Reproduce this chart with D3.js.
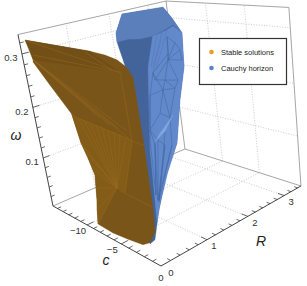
<!DOCTYPE html>
<html><head><meta charset="utf-8"><script src="https://cdn.jsdelivr.net/npm/d3@7"></script>
<style>html,body{margin:0;background:#fff}svg{display:block}text{font-family:"Liberation Sans",sans-serif}</style></head>
<body><svg id="c" width="307" height="286"></svg>
<script>
const cRange=[0,-15.8], rRange=[0,3.5], wRange=[0,0.335];
const cMajor=[-5,-10], rMajor=[1,2,3], wMajor=[0.1,0.2,0.3];
const cMinor=[-1,-2,-3,-4,-6,-7,-8,-9,-11,-12,-13,-14,-15];
const rMinor=[.2,.4,.6,.8,1.2,1.4,1.6,1.8,2.2,2.4,2.6,2.8,3.2,3.4];
const wMinor=[.02,.04,.06,.08,.12,.14,.16,.18,.22,.24,.26,.28,.32];
const legendLabels=['Stable solutions','Cauchy horizon'];
// stable solutions: vertices [c, omega], on the sheet R = stableR
const stableR=0.05;
const stableNodes=[[-15.18,.325],[-9.41,.325],[-5.17,.325],[-3.28,.323],[-1.88,.319],[-.94,.311],[-.30,.298],[-.26,.272],[-.23,.235],[-.20,.196],[-.23,.141],[-.25,.095],[-.45,.053],[-1.31,.028],[-2.29,.017],[-4.26,.012],[-6.37,.008],[-8.53,.010],[-7.99,.060],[-7.59,.108],[-8.22,.136],[-8.90,.160],[-9.53,.207],[-9.63,.210],[-12.28,.251],[-14.52,.287],[-14.26,.300],[-1.75,.301],[-5.88,.322],[-2.70,.302],[-1.59,.196],[-14.44,.291],[-2.13,.211],[-3.13,.210],[-4.13,.211],[-5.36,.218],[-8.65,.205],[-7.77,.205],[-6.94,.203],[-6.11,.203],[-5.29,.203],[-4.52,.201],[-3.75,.201],[-3.01,.200],[-2.29,.198],[-4.62,.102],[-3.61,.099],[-.36,.096],[-8.39,.144],[-7.94,.125],[-7.66,.114],[-7.80,.083],[-8.57,.152],[-8.28,.039]];
const stableOutline=d3.range(27);
const stableWedge=[0,2,27,31];
const stableFan=[22,36,37,38,39,40,41,42,43,44,30,46,45,17,53,18,51,19,20,21];
const stableMesh=[[0,27],[26,27],[28,29],[27,30],[31,30],[31,32],[31,33],[31,34],[31,35],[22,36],[36,44],[44,30],[30,9],[30,46],[46,45],[46,47],[45,17],[36,45],[37,45],[38,45],[39,45],[40,45],[41,45],[42,45],[43,45],[44,45],[21,45],[52,45],[48,45],[49,45],[50,45],[51,45],[53,45]];
// Cauchy horizon: vertices [c, R, omega]
const cauchyNodes=[[-8.26,1.2,.357],[-3.48,1.3,.371],[-2.01,1.2,.357],[-1.09,1.2,.336],[-.21,1,.290],[-.56,.9,.240],[-.38,.7,.177],[-.83,.5,.132],[-1.86,.4,.067],[-1.62,.2,.024],[-2.37,.2,.011],[-5.28,.7,.195],[-7.58,1,.274],[-8.89,1.1,.310],[-8.83,1.1,.326],[-7.27,1.1,.318],[-5.66,1.1,.321],[-4.08,1.1,.328],[-3.26,1.2,.336],[-2,1.2,.347],[-4.01,1.1,.328],[-3.02,1.2,.336],[-2.01,1.2,.345],[-1.09,1.2,.336],[-.21,1,.290],[-.56,.9,.240],[-.38,.7,.177],[-.70,.5,.135],[-1.42,.4,.087],[-1.68,.3,.051],[-2.12,.4,.100],[-3.20,.6,.156],[-3.88,.8,.215],[-4.50,1,.279],[-2.29,1.1,.330],[-1.93,1,.297],[-1.46,1.1,.322],[-.99,1.1,.312],[-2.36,1.1,.304],[-.34,1,.300],[-3.22,.9,.264],[-2,.9,.267],[-1.07,1,.267],[-3.98,1,.271],[-2.41,.9,.250],[-4.12,.9,.236],[-.96,.9,.257],[-2.54,.8,.214],[-3.48,.7,.185],[-1.41,.8,.211],[-2.64,.7,.172],[-2.26,.7,.185],[-1.01,.8,.217],[-1.61,.7,.191],[-3.06,.7,.167],[-2.47,.6,.168],[-1.80,.4,.084],[-1.85,.7,.167],[-1,.7,.171],[-1.71,.4,.082],[-3.67,.7,.167],[-1.96,.4,.092],[-3.45,1.1,.331],[-4.12,1,.280],[-3.40,1.2,.334],[-3.89,1,.279],[-2.77,1.2,.338],[-3.55,1,.277]];
const cauchyOutline=d3.range(15);
const cauchyCap=[0,1,2,3,19,18,17,16,15,13,14];
const cauchyLit=d3.range(20,34);
const cauchyCrescent=[54,51,52,53];
const cauchyFan=[[62,63],[64,65],[66,67],[18,43]];
const cauchyMesh=[[34,35],[35,36],[35,37],[35,38],[35,39],[35,40],[35,41],[35,42],[43,44],[44,45],[44,46],[44,47],[47,48],[47,49],[48,50],[38,43],[41,44],[42,46],[36,34],[38,34],[55,56],[57,59],[58,59],[60,61],[50,56],[48,55],[50,57],[49,58],[55,61],[57,56],[58,56],[43,45],[45,48],[46,49],[40,43],[41,46],[37,39],[36,37],[40,41],[41,42],[44,49],[45,60],[54,61],[53,59]];

const sc=d3.scaleLinear().domain(cRange).range([0,1]),
 sr=d3.scaleLinear().domain(rRange).range([0,1]),
 sw=d3.scaleLinear().domain(wRange).range([0,1]);
const P=(c,R,w)=>{const a=sc(c),b=sr(R),h=sw(w);
 const d=1+.2578*a+.2244*b-.108*h;
 return [(161-94.34*a+207.5*b-46*h)/d,(266-6.9*a-38.3*b-219.4*h)/d];};
const svg=d3.select('#c');
const line=(pts,st)=>svg.append('path').attr('d',d3.line()(pts)).attr('fill','none').attr('stroke',st.c).attr('stroke-width',st.w).attr('stroke-dasharray',st.d||null);
const poly=(pts,f)=>svg.append('path').attr('d',d3.line()(pts)+'Z').attr('fill',f).attr('stroke',f).attr('stroke-width',.3);
const C=cRange[1],Rm=rRange[1],W=wRange[1];
const grid={c:'#bdbdbd',w:.8,d:'1 1.6'}, edge={c:'#a6a6a6',w:1}, ax={c:'#444',w:1};
rMajor.forEach(r=>{line([P(0,r,0),P(C,r,0)],grid);line([P(C,r,0),P(C,r,W)],grid);});
cMajor.forEach(c=>{line([P(c,0,0),P(c,Rm,0)],grid);line([P(c,Rm,0),P(c,Rm,W)],grid);});
wMajor.forEach(w=>{line([P(C,0,w),P(C,Rm,w)],grid);line([P(C,Rm,w),P(0,Rm,w)],grid);});
line([P(C,0,0),P(C,Rm,0),P(0,Rm,0),P(0,Rm,W),P(C,Rm,W),P(C,0,W)],edge);
line([P(C,Rm,0),P(C,Rm,W)],edge);

const bp=i=>P(...cauchyNodes[i]);
poly(cauchyOutline.map(bp),'#43649b');
poly(cauchyCap.map(bp),'#5a7fbb');
poly(cauchyLit.map(bp),'#6289cb');
cauchyFan.forEach(([a,b])=>line([bp(a),bp(b)],{c:'#5a80c0',w:1}));
cauchyMesh.forEach(([a,b])=>line([bp(a),bp(b)],{c:'#3f659f',w:.5}));
poly(cauchyCrescent.map(bp),'#80a6e2');

const op=i=>{const n=stableNodes[i];return P(n[0],stableR,n[1]);};
poly(stableOutline.map(op),'#7a5519');
poly(stableWedge.map(op),'#724f17');
poly(stableFan.map(op),'#835c18');
stableMesh.forEach(([a,b])=>line([op(a),op(b)],{c:'#96691f',w:.5}));

line([P(C,0,W),P(C,0,0),P(0,0,0),P(0,Rm,0)],ax);
const tk=(a,b)=>line([a,b],{c:'#444',w:.8});
wMajor.forEach(w=>tk(P(C,0,w),P(C,.14,w)));wMinor.forEach(w=>tk(P(C,0,w),P(C,.08,w)));
cMajor.forEach(c=>tk(P(c,0,0),P(c,.14,0)));cMinor.forEach(c=>tk(P(c,0,0),P(c,.08,0)));
rMajor.forEach(r=>tk(P(0,r,0),P(-.7,r,0)));rMinor.forEach(r=>tk(P(0,r,0),P(-.4,r,0)));
const T=(s,x,y,o={})=>svg.append('text').text(s).attr('x',x).attr('y',y).attr('text-anchor',o.a||'middle').attr('dominant-baseline','central').attr('font-size',o.s||9.5).attr('fill',o.f||'#333').attr('font-style',o.i?'italic':null).attr('font-family',o.ff||null);
const off=(p,dx,dy)=>[p[0]+dx,p[1]+dy];
wMajor.forEach(w=>{const p=off(P(C,0,w),-11,4);T(w,p[0],p[1]);});
cMajor.forEach(c=>{const p=off(P(c,0,0),-9,6);T('\u2212'+(-c),p[0],p[1]);});
T('0',...off(P(0,0,0),0,11));
T('0',...off(P(0,0,0),10,6));
rMajor.forEach(r=>{const p=off(P(0,r,0),7,6);T(r,p[0],p[1]);});
const sf={i:1,s:14,f:'#222',ff:'"Liberation Serif",serif'};
T('\u03c9',16,135,sf);T('c',106,260,sf);T('R',261,241,sf);
svg.append('rect').attr('x',199.5).attr('y',38.5).attr('width',87).attr('height',46).attr('fill','#fff').attr('stroke','#333').attr('stroke-width',1.2);
svg.append('circle').attr('cx',211.5).attr('cy',52).attr('r',2.3).attr('fill','#e69f1f');
svg.append('circle').attr('cx',211.5).attr('cy',68).attr('r',2.3).attr('fill','#5b84c4');
T(legendLabels[0],221,52,{a:'start',s:7.5,f:'#222'});T(legendLabels[1],221,68,{a:'start',s:7.5,f:'#222'});
</script></body></html>
